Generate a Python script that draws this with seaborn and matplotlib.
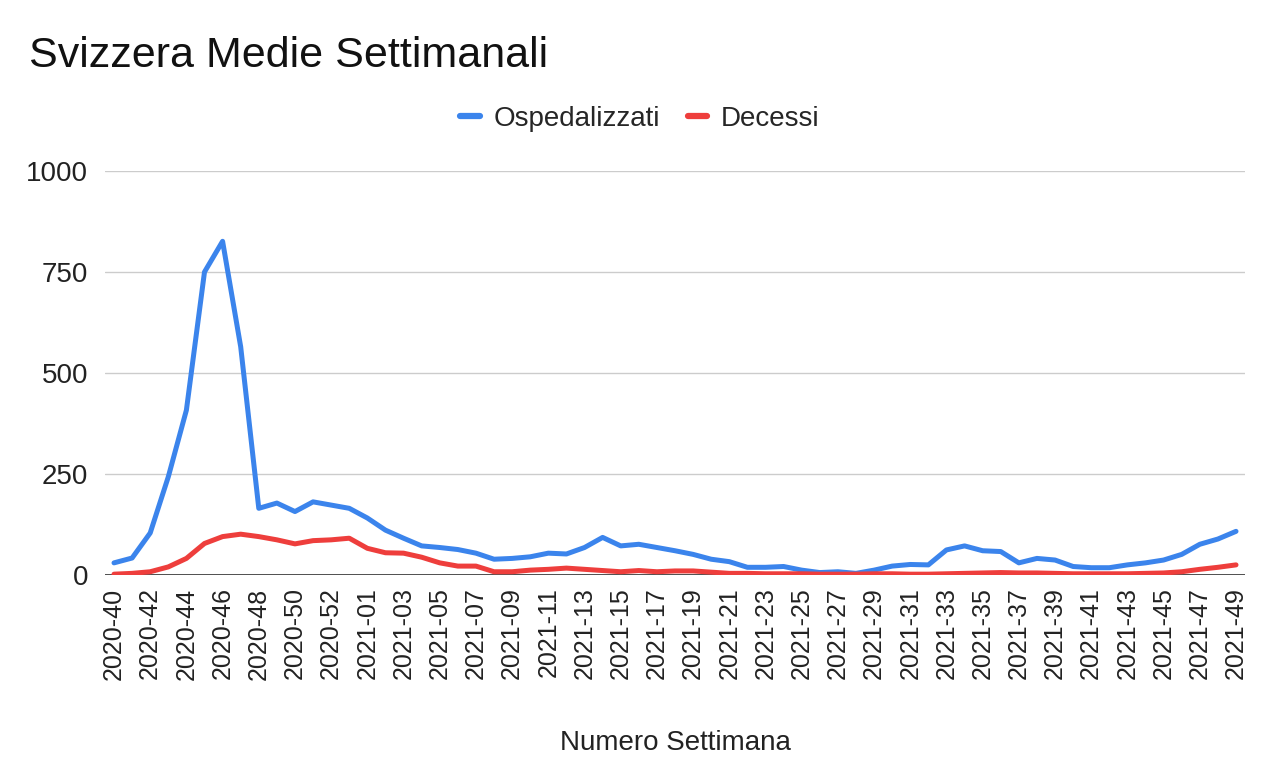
import matplotlib
matplotlib.use("Agg")
import matplotlib.pyplot as plt
import pandas as pd
import seaborn as sns

# Week labels: 2020-40 .. 2020-53, then 2021-01 .. 2021-49
weeks = [f"2020-{w:02d}" for w in range(40, 54)] + [f"2021-{w:02d}" for w in range(1, 50)]

# Weekly averages
ospedalizzati = [30, 42, 104, 243, 408, 750, 826, 565, 165, 178,
                 157, 181, 173, 165, 141, 111, 91, 72, 68, 63,
                 54, 39, 41, 45, 54, 52, 68, 93, 72, 76,
                 68, 60, 51, 39, 33, 19, 19, 21, 12, 6,
                 8, 4, 12, 22, 26, 25, 62, 72, 60, 58,
                 30, 41, 37, 21, 18, 18, 25, 30, 37, 51,
                 76, 89, 108]
decessi = [2, 4, 8, 20, 41, 78, 95, 101, 95, 87,
           77, 85, 87, 91, 66, 55, 54, 44, 30, 22,
           22, 8, 8, 12, 14, 17, 14, 11, 8, 11,
           8, 10, 10, 7, 4, 4, 3, 3, 3, 2,
           2, 2, 3, 3, 2, 2, 3, 4, 5, 6,
           5, 5, 4, 3, 3, 3, 3, 4, 5, 8,
           14, 19, 25]

df = pd.DataFrame({"Settimana": weeks,
                   "Ospedalizzati": ospedalizzati,
                   "Decessi": decessi})
df["idx"] = range(len(df))
long_df = df.melt(id_vars=["Settimana", "idx"], value_vars=["Ospedalizzati", "Decessi"],
                  var_name="Serie", value_name="Valore")

sns.set_style("white")
plt.rcParams["font.family"] = ["Liberation Sans", "DejaVu Sans"]

fig = plt.figure(figsize=(12.8, 7.79), dpi=100)
ax = fig.add_axes([0.082, 0.2619, 0.8907, 0.5186])

palette = {"Ospedalizzati": "#3b84ec", "Decessi": "#ee3e3c"}
sns.lineplot(data=long_df, x="idx", y="Valore", hue="Serie", palette=palette,
             linewidth=3.6, ax=ax, legend=False, zorder=3,
             solid_capstyle="round", solid_joinstyle="round")

ax.set_xlim(-0.5, len(weeks) - 0.5)
ax.set_ylim(0, 1000)
ax.set_yticks([0, 250, 500, 750, 1000])
ax.set_yticklabels(["0", "250", "500", "750", "1000"], fontsize=20, color="#222222")
ax.set_xticks(df["idx"][::2])
ax.set_xticklabels(df["Settimana"][::2], rotation=90, fontsize=18, color="#222222")
ax.tick_params(axis="y", length=0, pad=12)
ax.tick_params(axis="x", length=0, pad=9)

ax.grid(axis="y", color="#cccccc", linewidth=1)
ax.axhline(0, color="#333333", linewidth=1.2, zorder=2)
for s in ax.spines.values():
    s.set_visible(False)

ax.set_xlabel("Numero Settimana", fontsize=20, color="#222222", labelpad=36)
ax.set_ylabel("")

fig.text(0.023, 0.928, "Svizzera Medie Settimanali", fontsize=31, color="#111111",
         ha="left", va="center")

handles = [plt.Line2D([0], [0], color=palette[k], linewidth=4.5) for k in palette]
fig.legend(handles, list(palette.keys()), loc="center", bbox_to_anchor=(0.5, 0.847),
           ncol=2, frameon=False, fontsize=20, handlelength=0.7,
           handletextpad=0.5, columnspacing=1.0)

fig.savefig("out.png", dpi=100)
